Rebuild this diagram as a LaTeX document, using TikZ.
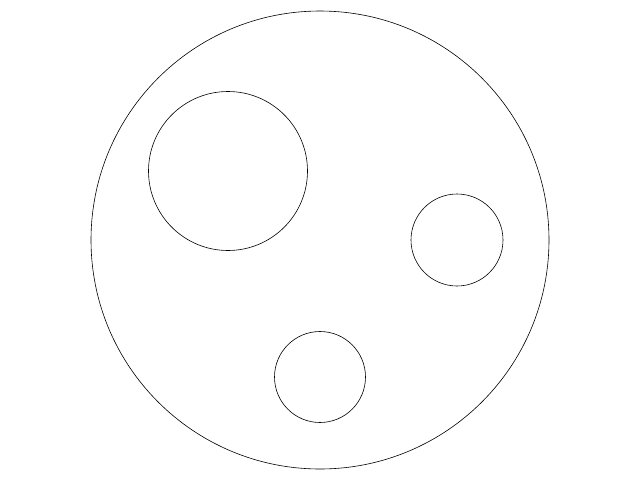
\documentclass[tikz,border=0pt]{standalone}
\begin{document}
\begin{tikzpicture}[x=1pt,y=-1pt,ring/.style={draw=black,line width=0.6pt}]
\useasboundingbox[fill=white] (0,0) rectangle (640,480);
\draw[ring] (320,240) circle[radius=229];
\draw[ring] (228,171) circle[radius=79.5];
\draw[ring] (457,240) circle[radius=46];
\draw[ring] (320,377) circle[radius=45.5];
\end{tikzpicture}
\end{document}
